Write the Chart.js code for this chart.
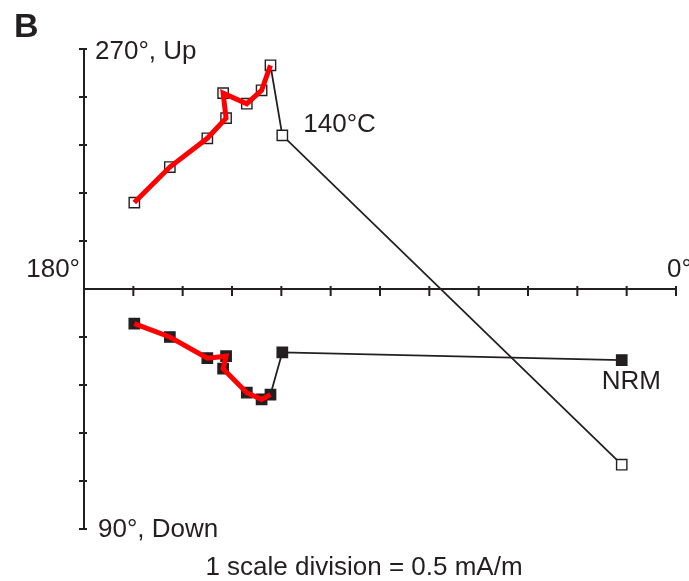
<!DOCTYPE html>
<html>
<head>
<meta charset="utf-8">
<title>Zijderveld plot B</title>
<script src="https://cdn.jsdelivr.net/npm/chart.js@4.4.1/dist/chart.umd.min.js"></script>
<style>
  html, body { margin: 0; padding: 0; background: #fff; }
  #wrap { width: 689px; height: 581px; }
</style>
</head>
<body>
<div id="wrap"><canvas id="zplot" width="689" height="581"></canvas></div>
<script>
// Demagnetization steps, NRM first. Values in mA/m.
const stepLabels = ['NRM', '140°C', '', '', '', '', '', '', '', ''];
// horizontal axis component (towards 0°)
const north = [5.45, 2.01, 1.89, 1.80, 1.65, 1.41, 1.44, 1.25, 0.87, 0.51];
// open squares: vertical component (up positive)
const upDown = [-1.83, 1.60, 2.33, 2.07, 1.93, 2.04, 1.78, 1.57, 1.27, 0.90];
// filled squares: 270/90 component (270 positive)
const westEast = [-0.74, -0.66, -1.10, -1.15, -1.08, -0.83, -0.70, -0.72, -0.50, -0.36];
// red path starts at this step
const fitFrom = 2;

const xTicks = [0.5, 1.0, 1.5, 2.0, 2.5, 3.0, 3.5, 4.0, 4.5, 5.0, 5.5, 6.0];
const yTicks = [-2.5, -2.0, -1.5, -1.0, -0.5, 0.5, 1.0, 1.5, 2.0, 2.5];
const axisLabels = ['270°, Up', '90°, Down', '180°', '0°'];
const caption = '1 scale division = 0.5 mA/m';

const ink = '#231f20';
const red = '#ff0000';
const font = '26px "Liberation Sans", Arial, Helvetica, sans-serif';

// build {x, y} points for a slice of steps
function pts(ys, from, to) {
    return north.slice(from, to).map((x, i) => ({ x: x, y: ys[from + i] }));
}

// Draw the cross-shaped axes through the origin
const axesPlugin = {
    id: 'zAxes',
    beforeDatasetsDraw(chart) {
        const { ctx, scales: { x, y } } = chart;
        const x0 = x.getPixelForValue(0);
        const y0 = y.getPixelForValue(0);
        ctx.save();
        ctx.strokeStyle = ink;
        ctx.lineWidth = 2;
        ctx.beginPath();
        ctx.moveTo(x0, y.getPixelForValue(yTicks[yTicks.length - 1]));
        ctx.lineTo(x0, y.getPixelForValue(yTicks[0]));
        ctx.moveTo(x0, y0);
        ctx.lineTo(x.getPixelForValue(xTicks[xTicks.length - 1]), y0);
        yTicks.forEach(v => {
            const p = y.getPixelForValue(v);
            ctx.moveTo(x0 - 5, p);
            ctx.lineTo(x0 + 3, p);
        });
        xTicks.forEach(v => {
            const p = x.getPixelForValue(v);
            ctx.moveTo(p, y0 - 3);
            ctx.lineTo(p, y0 + 7);
        });
        ctx.stroke();
        ctx.restore();
    },
    afterDatasetsDraw(chart) {
        const { ctx, scales: { x, y } } = chart;
        const x0 = x.getPixelForValue(0);
        const y0 = y.getPixelForValue(0);
        const top = y.getPixelForValue(yTicks[yTicks.length - 1]);
        const bottom = y.getPixelForValue(yTicks[0]);
        const right = x.getPixelForValue(xTicks[xTicks.length - 1]);
        ctx.save();
        ctx.fillStyle = ink;
        ctx.font = font;
        ctx.textBaseline = 'alphabetic';
        ctx.textAlign = 'left';
        ctx.fillText(axisLabels[0], x0 + 11, top + 10);
        ctx.fillText(axisLabels[1], x0 + 14, bottom + 8);
        ctx.fillText(axisLabels[3], right - 9, y0 - 12);
        ctx.textAlign = 'right';
        ctx.fillText(axisLabels[2], x0 - 4, y0 - 12);

        // step labels
        ctx.textAlign = 'left';
        ctx.fillText(stepLabels[1], x.getPixelForValue(north[1]) + 21, y.getPixelForValue(upDown[1]) - 3);
        ctx.fillText(stepLabels[0], x.getPixelForValue(north[0]) - 20, y.getPixelForValue(westEast[0]) + 29);

        ctx.textAlign = 'center';
        ctx.fillText(caption, 364, 575);

        ctx.textAlign = 'left';
        ctx.font = 'bold 34px "Liberation Sans", Arial, Helvetica, sans-serif';
        ctx.fillText('B', 14, 37);
        ctx.restore();
    }
};

const chart = new Chart(document.getElementById('zplot').getContext('2d'), {
    type: 'scatter',
    data: {
        datasets: [
            {   // red path, vertical projection
                data: pts(upDown, fitFrom),
                showLine: true, pointRadius: 0,
                borderColor: red, borderWidth: 5, order: 0
            },
            {   // red path, horizontal projection
                data: pts(westEast, fitFrom),
                showLine: true, pointRadius: 0,
                borderColor: red, borderWidth: 5, order: 0
            },
            {   // open squares
                data: pts(upDown, 0),
                pointStyle: 'rect', pointRadius: 7.3,
                backgroundColor: '#fff', borderColor: ink, borderWidth: 1.4, order: 1
            },
            {   // filled squares
                data: pts(westEast, 0),
                pointStyle: 'rect', pointRadius: 7.3,
                backgroundColor: ink, borderColor: ink, borderWidth: 1.4, order: 1
            },
            {   // thin black line, NRM to first red step
                data: pts(upDown, 0, fitFrom + 1),
                showLine: true, pointRadius: 0,
                borderColor: ink, borderWidth: 1.8, order: 2
            },
            {
                data: pts(westEast, 0, fitFrom + 1),
                showLine: true, pointRadius: 0,
                borderColor: ink, borderWidth: 1.8, order: 2
            }
        ]
    },
    options: {
        responsive: false,
        animation: false,
        layout: { padding: { left: 84, right: 13, top: 49, bottom: 52 } },
        scales: {
            x: { type: 'linear', min: 0, max: 6, display: false },
            y: { type: 'linear', min: -2.5, max: 2.5, display: false }
        },
        plugins: {
            legend: { display: false },
            tooltip: { enabled: false }
        },
        elements: { line: { tension: 0 } }
    },
    plugins: [axesPlugin]
});
</script>
</body>
</html>
